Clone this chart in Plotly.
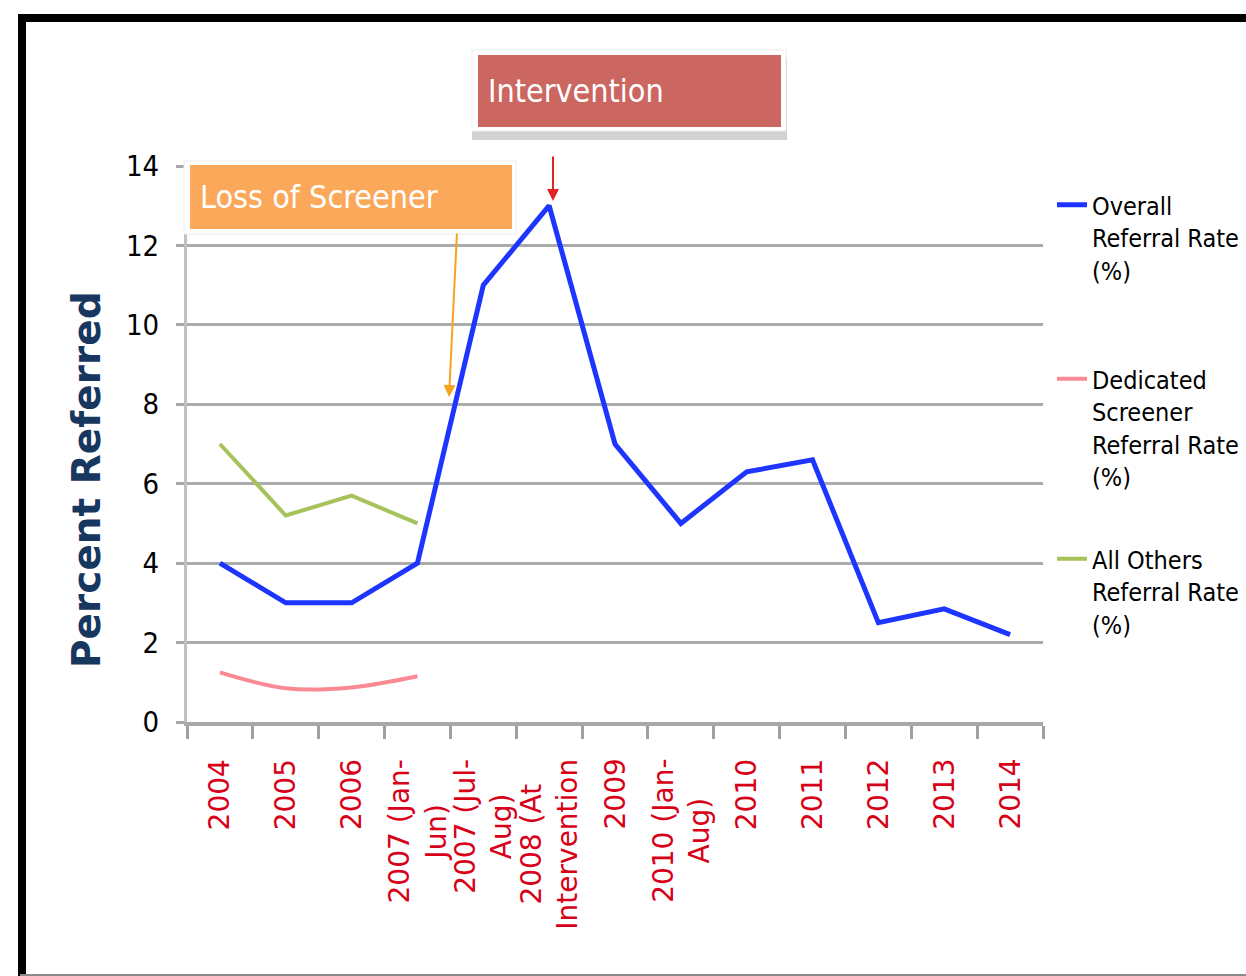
import plotly.graph_objects as go

categories = ["2004", "2005", "2006", "2007 (Jan-Jun)", "2007 (Jul-Aug)",
              "2008 (At Intervention", "2009", "2010 (Jan-Aug)", "2010",
              "2011", "2012", "2013", "2014"]
tick_labels = ["2004", "2005", "2006", "2007 (Jan-<br>Jun)", "2007 (Jul-<br>Aug)",
               "2008 (At<br>Intervention", "2009", "2010 (Jan-<br>Aug)", "2010",
               "2011", "2012", "2013", "2014"]
overall = [4.0, 3.0, 3.0, 4.0, 11.0, 13.0, 7.0, 5.0, 6.3, 6.6, 2.5, 2.85, 2.2]
dedicated = [1.25, 0.85, 0.87, 1.15]
others = [7.0, 5.2, 5.7, 5.0]

y_ticks = [0, 2, 4, 6, 8, 10, 12, 14]

NARROW = "DejaVu Sans Condensed, Liberation Sans Narrow, Lato, sans-serif"

fig = go.Figure()
fig.add_trace(go.Scatter(x=categories, y=overall, mode="lines",
                         line=dict(color="#1e35ff", width=5),
                         name="Overall<br>Referral Rate<br>(%)", legend="legend"))
fig.add_trace(go.Scatter(x=categories[:4], y=dedicated, mode="lines",
                         line=dict(color="#f98a94", width=4, shape="spline"),
                         name="Dedicated<br>Screener<br>Referral Rate<br>(%)", legend="legend2"))
fig.add_trace(go.Scatter(x=categories[:4], y=others, mode="lines",
                         line=dict(color="#a6c25a", width=4),
                         name="All Others<br>Referral Rate<br>(%)", legend="legend3"))

L, R, T, B = 187, 1246 - 1043, 166, 976 - 722
W, H = 1246 - L - R, 976 - T - B


def px(xp):
    return (xp - L) / W


def py(yp):
    return (T + H - yp) / H


legend_common = dict(font=dict(family=NARROW, size=25, color="#000000"),
                     bgcolor="rgba(0,0,0,0)", xanchor="left", yanchor="top",
                     valign="top", itemwidth=30, tracegroupgap=0)

fig.update_layout(
    width=1246, height=976,
    margin=dict(l=L, r=R, t=T, b=B, pad=0, autoexpand=False),
    paper_bgcolor="white", plot_bgcolor="white",
    showlegend=True,
    legend=dict(x=px(1052), y=py(182), **legend_common),
    legend2=dict(x=px(1052), y=py(356), **legend_common),
    legend3=dict(x=px(1052), y=py(536), **legend_common),
    xaxis=dict(type="category", categoryorder="array", categoryarray=categories,
               range=[-0.5, len(categories) - 0.5],
               showticklabels=False, showgrid=False,
               showline=True, linecolor="#a8a8a8", linewidth=4,
               ticks="outside", tickson="boundaries", ticklen=13,
               tickwidth=3, tickcolor="#a0a0a0"),
    yaxis=dict(range=[0, 14], tickvals=y_ticks, ticktext=[str(v) for v in y_ticks],
               showgrid=True, gridcolor="#ababab", gridwidth=3,
               zeroline=False,
               showline=True, linecolor="#c0c0c0", linewidth=3,
               ticks="outside", ticklen=8, tickwidth=3, tickcolor="#a8a8a8",
               tickfont=dict(family=NARROW, size=29, color="#000000"),
               ticklabelstandoff=11),
)

# x tick labels as rotated annotations (center-aligned lines, top-anchored)
for i, lab in enumerate(tick_labels):
    fig.add_annotation(x=i, xref="x", y=py(757), yref="paper",
                       text=lab, showarrow=False, textangle=-90,
                       xanchor="center", yanchor="top", align="center",
                       font=dict(family="DejaVu Sans", size=28, color="#d80018"))

# y axis title
fig.add_annotation(x=px(86), y=py(480), xref="paper", yref="paper",
                   text="<b>Percent Referred</b>", showarrow=False, textangle=-90,
                   xanchor="center", yanchor="middle",
                   font=dict(family="DejaVu Sans", size=39, color="#17375e"))

# frame: black left and top border, thin grey bottom
fig.add_shape(type="path", xref="paper", yref="paper",
              path=f"M {px(22)} {py(990)} L {px(22)} {py(18)} L {px(1260)} {py(18)}",
              line=dict(color="#000000", width=8), layer="above")
fig.add_shape(type="line", xref="paper", yref="paper",
              x0=px(20), x1=px(1260), y0=py(975), y1=py(975),
              line=dict(color="#8a8a8a", width=2), layer="above")

# Box backgrounds / shadows
fig.add_shape(type="rect", xref="paper", yref="paper",
              x0=px(184), x1=px(516), y0=py(161), y1=py(234),
              fillcolor="#ffffff", line=dict(color="#ececec", width=1), layer="above")
fig.add_shape(type="rect", xref="paper", yref="paper",
              x0=px(472), x1=px(787), y0=py(58), y1=py(140),
              fillcolor="#d2d2d2", line=dict(width=0), layer="above")
fig.add_shape(type="rect", xref="paper", yref="paper",
              x0=px(472), x1=px(786), y0=py(50), y1=py(131),
              fillcolor="#ffffff", line=dict(color="#ececec", width=1), layer="above")

# Loss of Screener box
fig.add_annotation(x=px(190), y=py(165), xref="paper", yref="paper",
                   xanchor="left", yanchor="top", showarrow=False,
                   text="Loss of Screener", align="left", valign="middle",
                   width=302, height=44, borderpad=10, borderwidth=0,
                   bgcolor="#fba85b",
                   font=dict(family=NARROW, size=32, color="#ffffff"))
# Intervention box
fig.add_annotation(x=px(478), y=py(55), xref="paper", yref="paper",
                   xanchor="left", yanchor="top", showarrow=False,
                   text="Intervention", align="left", valign="middle",
                   width=283, height=52, borderpad=10, borderwidth=0,
                   bgcolor="#cc6660",
                   font=dict(family=NARROW, size=32, color="#ffffff"))

# arrows
fig.add_annotation(x=px(449), y=py(397), xref="paper", yref="paper",
                   ax=8, ay=-165, text="", showarrow=True,
                   arrowhead=2, arrowsize=1.2, arrowwidth=2, arrowcolor="#f7a21f")
fig.add_annotation(x=px(553), y=py(201), xref="paper", yref="paper",
                   ax=0, ay=-46, text="", showarrow=True,
                   arrowhead=2, arrowsize=1.2, arrowwidth=2, arrowcolor="#e02424")

fig.write_html("out.html")
